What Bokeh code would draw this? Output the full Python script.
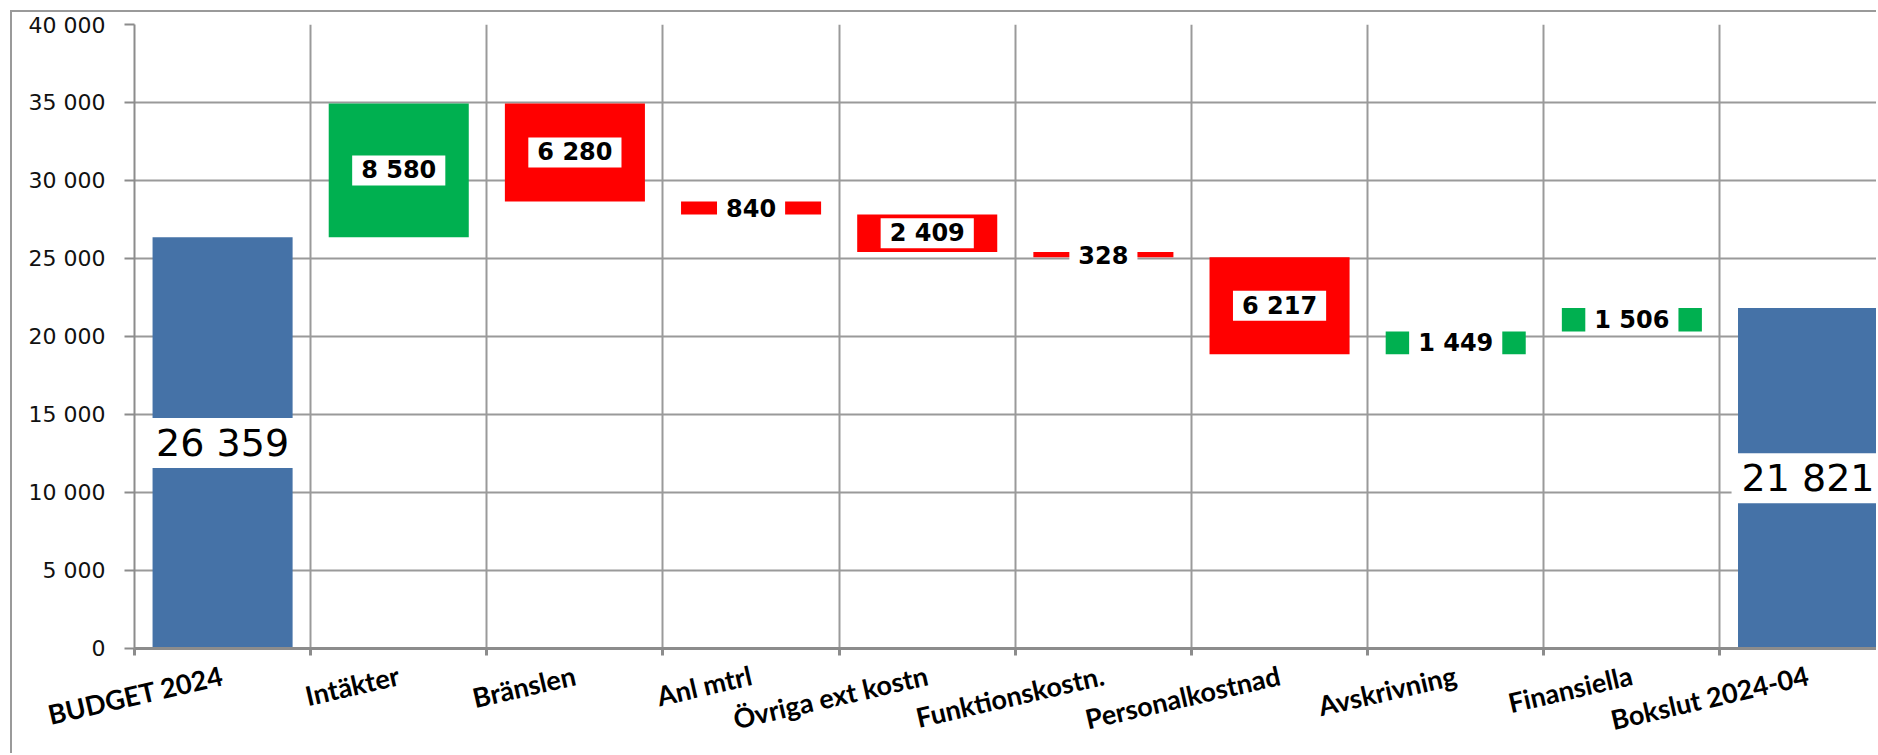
from bokeh.plotting import figure
from bokeh.models import Range1d, FixedTicker, ColumnDataSource
from bokeh.core.properties import value
from bokeh.embed import file_html
from bokeh.resources import INLINE
import math

# ---- data ----
categories = ["BUDGET 2024", "Intäkter", "Bränslen", "Anl mtrl", "Övriga ext kostn",
              "Funktionskostn.", "Personalkostnad", "Avskrivning", "Finansiella", "Bokslut 2024-04"]
changes = [26359, 8580, -6280, -840, -2409, -328, -6217, 1449, 1506, 21821]
kinds = ["total", "up", "down", "down", "down", "down", "down", "up", "up", "total"]
value_labels = ["26 359", "8 580", "6 280", "840", "2 409", "328", "6 217", "1 449", "1 506", "21 821"]
y_ticks = [0, 5000, 10000, 15000, 20000, 25000, 30000, 35000, 40000]
y_tick_labels = ["0", "5 000", "10 000", "15 000", "20 000", "25 000", "30 000", "35 000", "40 000"]

kind_colors = {"total": "#4572A7", "up": "#00B050", "down": "#FF0000"}

# ---- waterfall geometry from data ----
xs = list(range(len(categories)))
bottoms, tops = [], []
running = 0
for ch, k in zip(changes, kinds):
    if k == "total":
        b, t = 0, ch
        running = ch
    else:
        b, t = running, running + ch
        running += ch
    bottoms.append(min(b, t))
    tops.append(max(b, t))
mids = [(b + t) / 2 for b, t in zip(bottoms, tops)]
colors = [kind_colors[k] for k in kinds]

src = ColumnDataSource(dict(x=xs, bottom=bottoms, top=tops, color=colors))

p = figure(width=1866, height=743, output_backend="svg", toolbar_location=None,
           x_range=Range1d(-0.5, 9.4), y_range=Range1d(0, 40000),
           min_border_left=122, min_border_top=12, min_border_bottom=105, min_border_right=0)
p.margin = (10, 0, 0, 10)
p.styles = {"border-top": "2px solid #9a9a9a", "border-left": "2px solid #9a9a9a"}
p.outline_line_color = None
p.background_fill_color = "white"

p.vbar(x="x", bottom="bottom", top="top", width=0.795, fill_color="color", line_color=None, source=src)

# labels
tot_idx = [i for i, k in enumerate(kinds) if k == "total"]
chg_idx = [i for i, k in enumerate(kinds) if k != "total"]
tot_src = ColumnDataSource(dict(x=[xs[i] for i in tot_idx], y=[mids[i] for i in tot_idx],
                                t=[value_labels[i] for i in tot_idx]))
chg_src = ColumnDataSource(dict(x=[xs[i] for i in chg_idx], y=[mids[i] for i in chg_idx],
                                t=[value_labels[i] for i in chg_idx]))
p.text(x="x", y="y", text="t", source=tot_src, text_font=value("DejaVu Sans"),
       text_font_size="38px", text_align="center", text_baseline="middle", text_color="black",
       background_fill_color="white", padding=(10, 3))
p.text(x="x", y="y", text="t", source=chg_src, text_font=value("DejaVu Sans"),
       text_font_style="bold", text_font_size="24px", text_align="center", text_baseline="middle",
       text_color="black", background_fill_color="white", padding=(9, 1))

# grids
boundaries = [i + 0.5 for i in range(10)]
p.xgrid.ticker = FixedTicker(ticks=boundaries)
p.ygrid.ticker = FixedTicker(ticks=y_ticks)
for g in (p.xgrid, p.ygrid):
    g.grid_line_color = "#9a9a9a"
    g.grid_line_width = 2

# x axis
p.xaxis.ticker = FixedTicker(ticks=xs, minor_ticks=[-0.5] + boundaries)
p.xaxis.major_label_overrides = {x: c for x, c in zip(xs, categories)}
p.xaxis.major_label_orientation = math.radians(13)
p.xaxis.major_label_text_font = "Lato"
p.xaxis.major_label_text_font_style = "bold"
p.xaxis.major_label_text_font_size = "27px"
p.xaxis.major_label_text_color = "black"
p.xaxis.major_label_standoff = 19
p.xaxis.major_tick_line_color = None
p.xaxis.major_tick_out = 0
p.xaxis.major_tick_in = 0
p.xaxis.minor_tick_line_color = "#8c8c8c"
p.xaxis.minor_tick_line_width = 3
p.xaxis.minor_tick_out = 7
p.xaxis.minor_tick_in = 0
p.xaxis.axis_line_color = "#8c8c8c"
p.xaxis.axis_line_width = 3

# y axis
p.yaxis.ticker = FixedTicker(ticks=y_ticks)
p.yaxis.major_label_overrides = {t: l for t, l in zip(y_ticks, y_tick_labels)}
p.yaxis.major_label_text_font = "DejaVu Sans"
p.yaxis.major_label_text_font_size = "22px"
p.yaxis.major_label_text_color = "#111111"
p.yaxis.major_label_standoff = 19
p.yaxis.major_tick_out = 10
p.yaxis.major_tick_in = 0
p.yaxis.major_tick_line_color = "#8c8c8c"
p.yaxis.major_tick_line_width = 2
p.yaxis.minor_tick_line_color = None
p.yaxis.axis_line_color = "#8c8c8c"
p.yaxis.axis_line_width = 2

open("out.html", "w").write(file_html(p, INLINE))
